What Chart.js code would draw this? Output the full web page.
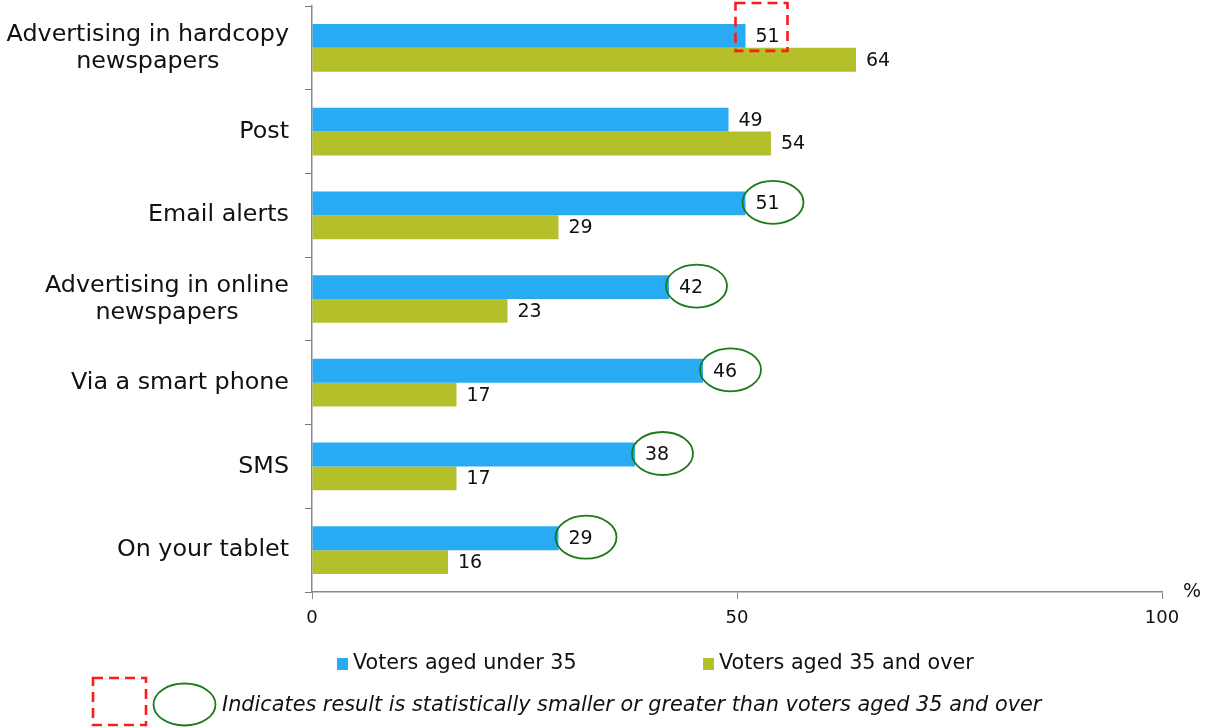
<!DOCTYPE html>
<html>
<head>
<meta charset="utf-8">
<script src="https://cdn.jsdelivr.net/npm/chart.js@4/dist/chart.umd.min.js"></script>
<style>
  html, body { margin: 0; padding: 0; background: #ffffff; }
  #wrap { position: relative; width: 1205px; height: 727px; }
</style>
</head>
<body>
<div id="wrap"><canvas id="c" width="1205" height="727"></canvas></div>
<script>
const categories = [
  ["Advertising in hardcopy", "newspapers"],
  ["Post"],
  ["Email alerts"],
  ["Advertising in online", "newspapers"],
  ["Via a smart phone"],
  ["SMS"],
  ["On your tablet"]
];
const under35 = [51, 49, 51, 42, 46, 38, 29];
const over35  = [64, 54, 29, 23, 17, 17, 16];
const seriesNames = ["Voters aged under 35", "Voters aged 35 and over"];
const xTicks = [0, 50, 100];
// marker on the under-35 value: 'box' = red dashed box, 'ellipse' = green ellipse
const under35Marks = ['box', null, 'ellipse', 'ellipse', 'ellipse', 'ellipse', 'ellipse'];
const footnote = "Indicates result is statistically smaller or greater than voters aged 35 and over";

const BLUE = '#29abf3';
const OLIVE = '#b3c02a';
const GREEN = '#1b7a1b';
const RED = '#ff1a1a';
const FONT = "'DejaVu Sans', Verdana, sans-serif";

const annot = {
  id: 'annot',
  afterDraw(chart) {
    const ctx = chart.ctx;
    const area = chart.chartArea;
    const yScale = chart.scales.y;
    ctx.save();
    // category labels (block right aligned, lines centered)
    ctx.font = "23.8px " + FONT;
    ctx.fillStyle = '#111';
    ctx.textBaseline = 'middle';
    ctx.textAlign = 'center';
    const lineH = 27;
    categories.forEach((lines, i) => {
      const cy = yScale.getPixelForValue(i);
      const w = Math.max(...lines.map(l => ctx.measureText(l).width));
      const right = 289;
      const cx = right - w / 2;
      const startY = cy - (lines.length - 1) * lineH / 2;
      lines.forEach((l, k) => ctx.fillText(l, cx, startY + k * lineH));
    });

    // value labels
    ctx.font = "19px " + FONT;
    ctx.textAlign = 'left';
    chart.data.datasets.forEach((ds, di) => {
      const meta = chart.getDatasetMeta(di);
      meta.data.forEach((bar, i) => {
        ctx.fillStyle = '#111';
        ctx.fillText(String(ds.data[i]), bar.x + 10, bar.y + 1);
        if (di === 0) {
          const m = under35Marks[i];
          if (m === 'ellipse') {
            ctx.strokeStyle = GREEN;
            ctx.lineWidth = 1.8;
            ctx.setLineDash([]);
            ctx.beginPath();
            ctx.ellipse(bar.x + 27.5, bar.y - 1, 30.5, 21.5, 0, 0, Math.PI * 2);
            ctx.stroke();
          } else if (m === 'box') {
            ctx.strokeStyle = RED;
            ctx.lineWidth = 2.6;
            ctx.setLineDash([10, 6]);
            const h = bar.height;
            ctx.strokeRect(bar.x - 10, bar.y - h / 2 - 21, 52, h + 24);
            ctx.setLineDash([]);
          }
        }
      });
    });

    // percent sign
    ctx.font = "19px " + FONT;
    ctx.fillStyle = '#111';
    ctx.textAlign = 'left';
    ctx.fillText('%', area.right + 21, area.bottom);

    // legend
    ctx.font = "20.7px " + FONT;
    ctx.textBaseline = 'middle';
    const legendY = 664;
    const legX = [337, 703];
    chart.data.datasets.forEach((ds, di) => {
      ctx.fillStyle = ds.backgroundColor;
      ctx.fillRect(legX[di], legendY - 6, 11, 12);
      ctx.fillStyle = '#111';
      ctx.fillText(seriesNames[di], legX[di] + 16, legendY);
    });

    // footnote
    ctx.strokeStyle = RED;
    ctx.lineWidth = 2.6;
    ctx.setLineDash([10, 6]);
    ctx.strokeRect(93, 678, 53, 47);
    ctx.setLineDash([]);
    ctx.strokeStyle = GREEN;
    ctx.lineWidth = 1.8;
    ctx.beginPath();
    ctx.ellipse(184.5, 704.5, 31, 21, 0, 0, Math.PI * 2);
    ctx.stroke();
    ctx.font = "italic 20.8px " + FONT;
    ctx.fillStyle = '#111';
    ctx.fillText(footnote, 222, 706);
    ctx.restore();
  }
};

new Chart(document.getElementById('c'), {
  type: 'bar',
  data: {
    labels: categories,
    datasets: [
      { label: seriesNames[0], data: under35, backgroundColor: BLUE, borderWidth: 0,
        categoryPercentage: 0.57, barPercentage: 1.0 },
      { label: seriesNames[1], data: over35, backgroundColor: OLIVE, borderWidth: 0,
        categoryPercentage: 0.57, barPercentage: 1.0 }
    ]
  },
  options: {
    indexAxis: 'y',
    responsive: false,
    animation: false,
    layout: { padding: { top: 6, right: 43, left: 0, bottom: 0 } },
    plugins: { legend: { display: false }, tooltip: { enabled: false } },
    scales: {
      x: {
        min: 0, max: 100,
        afterBuildTicks(s) { s.ticks = xTicks.map(v => ({ value: v })); },
        afterFit(s) { s.height = 135; },
        grid: { drawOnChartArea: false, drawTicks: true, tickLength: 7, color: '#888' },
        border: { display: true, color: '#888', width: 1.5 },
        ticks: { padding: 9, color: '#111', font: { family: FONT, size: 18 }, maxRotation: 0 }
      },
      y: {
        afterFit(s) { s.width = 312; },
        grid: { drawOnChartArea: false, drawTicks: true, tickLength: 7, color: '#777', offset: true },
        border: { display: true, color: '#888', width: 1.5 },
        ticks: { display: false }
      }
    }
  },
  plugins: [annot]
});
</script>
</body>
</html>
